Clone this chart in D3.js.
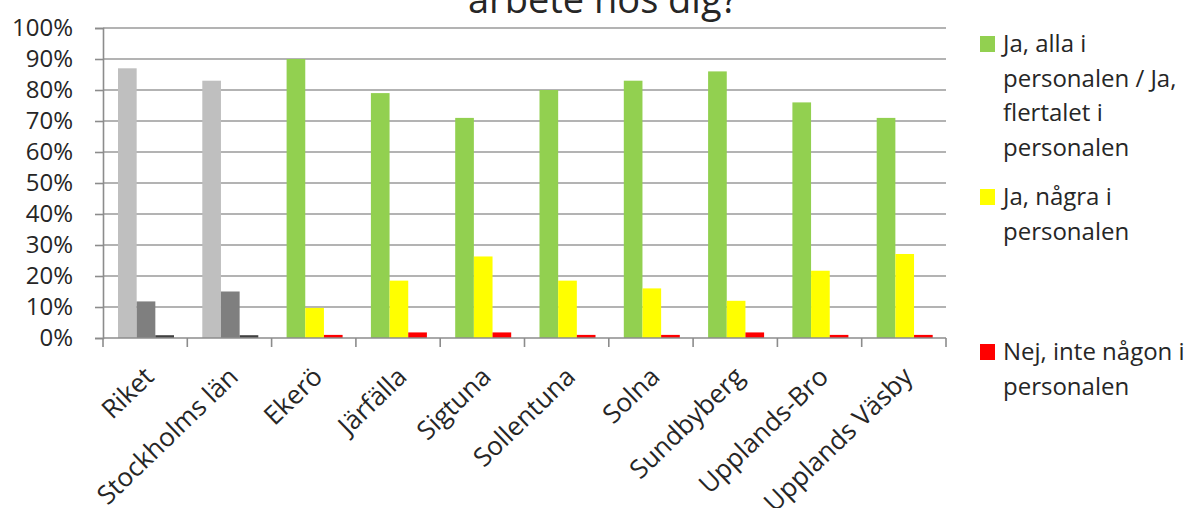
<!DOCTYPE html>
<html>
<head>
<meta charset="utf-8">
<script src="https://cdn.jsdelivr.net/npm/d3@7"></script>
<style>
  body { margin: 0; background: #fff; }
  text { font-family: "Open Sans", sans-serif; fill: #262626; }
</style>
</head>
<body>
<div id="graph"></div>
<script>
// Data
var categories = ["Riket", "Stockholms län", "Ekerö", "Järfälla", "Sigtuna", "Sollentuna",
                  "Solna", "Sundbyberg", "Upplands-Bro", "Upplands Väsby"];
var allaValues  = [87, 83, 90, 79, 71, 80, 83, 86, 76, 71];
var nagraValues = [11.8, 15, 9.7, 18.5, 26.3, 18.5, 16, 12, 21.7, 27.1];
var nejValues   = [0.9, 0.9, 1, 1.8, 1.8, 1, 1, 1.8, 1, 1];
var yTicks = [0, 10, 20, 30, 40, 50, 60, 70, 80, 90, 100];
var legendLines = [
  ["Ja, alla i", "personalen / Ja,", "flertalet i", "personalen"],
  ["Ja, några i", "personalen"],
  ["Nej, inte någon i", "personalen"]
];
var seriesValues = [allaValues, nagraValues, nejValues];
var seriesColors = ["#92d050", "#ffff00", "#ff0000"];
var grayColors = ["#bfbfbf", "#7f7f7f", "#404040"]; // Riket + län drawn in grey

var width = 1202, height = 508;
var plotLeft = 103, plotRight = 946, plotTop = 28, plotBottom = 338;

var svg = d3.select("#graph").append("svg")
  .attr("width", width)
  .attr("height", height);

var x = d3.scaleBand().domain(categories).range([plotLeft, plotRight]);
var x1 = d3.scaleBand().domain([0, 1, 2]).range([15, 71]);
var y = d3.scaleLinear().domain([0, 100]).range([plotBottom, plotTop]);

// gridlines
svg.append("g")
  .selectAll("line")
  .data(yTicks.slice(1))
  .enter().append("line")
    .attr("x1", plotLeft).attr("x2", plotRight)
    .attr("y1", function (d) { return y(d); })
    .attr("y2", function (d) { return y(d); })
    .attr("stroke", "#9a9a9a")
    .attr("stroke-width", 1.6);

// y axis
var yAxis = d3.axisLeft(y).tickValues(yTicks).tickSize(8).tickPadding(22)
  .tickFormat(function (d) { return d + "%"; });
var gy = svg.append("g").attr("transform", "translate(" + plotLeft + ",0)").call(yAxis);
gy.select(".domain").attr("stroke", "#8c8c8c").attr("stroke-width", 1.6);
gy.selectAll(".tick line").attr("stroke", "#8c8c8c").attr("stroke-width", 1.6);
gy.selectAll("text").style("font-size", "24px").attr("fill", "#262626")
  .style("font-family", "Open Sans");

// bars
var groups = svg.append("g")
  .selectAll("g")
  .data(categories)
  .enter().append("g")
    .attr("transform", function (d) { return "translate(" + x(d) + ",0)"; });

groups.selectAll("rect")
  .data(function (d, i) {
    return seriesValues.map(function (vals, s) {
      return { s: s, v: vals[i], grey: i < 2 };
    });
  })
  .enter().append("rect")
    .attr("x", function (d) { return x1(d.s); })
    .attr("width", x1.bandwidth())
    .attr("y", function (d) { return y(d.v); })
    .attr("height", function (d) { return plotBottom - y(d.v); })
    .attr("fill", function (d) { return d.grey ? grayColors[d.s] : seriesColors[d.s]; });

// x axis with ticks between categories
var bounds = categories.map(function (c) { return x(c); }).concat([plotRight]);
var gx = svg.append("g");
gx.append("line")
  .attr("x1", plotLeft).attr("x2", plotRight)
  .attr("y1", plotBottom).attr("y2", plotBottom)
  .attr("stroke", "#8c8c8c").attr("stroke-width", 1.6);
gx.selectAll(".tk")
  .data(bounds)
  .enter().append("line")
    .attr("x1", function (d) { return d; })
    .attr("x2", function (d) { return d; })
    .attr("y1", plotBottom).attr("y2", plotBottom + 9)
    .attr("stroke", "#8c8c8c").attr("stroke-width", 1.6);

gx.selectAll(".lbl")
  .data(categories)
  .enter().append("text")
    .attr("text-anchor", "end")
    .style("font-size", "26px")
    .attr("transform", function (d) {
      return "translate(" + (x(d) + x.bandwidth() / 2 + 4) + "," + 372 + ") rotate(-44)";
    })
    .attr("dy", "0.35em")
    .text(function (d) { return d; });

// title (top line cut off)
svg.append("text")
  .attr("x", 603).attr("y", 13)
  .attr("text-anchor", "middle")
  .style("font-size", "38px")
  .text("arbete hos dig?");

// legend
var legendBase = [52, 205, 360];
legendLines.forEach(function (lines, s) {
  svg.append("rect")
    .attr("x", 980).attr("y", legendBase[s] - 16)
    .attr("width", 15).attr("height", 16)
    .attr("fill", seriesColors[s]);
  var t = svg.append("text")
    .attr("x", 1003).attr("y", legendBase[s])
    .style("font-size", "24px");
  lines.forEach(function (ln, k) {
    t.append("tspan").attr("x", 1003).attr("dy", k === 0 ? 0 : 34.5).text(ln);
  });
});
</script>
</body>
</html>
